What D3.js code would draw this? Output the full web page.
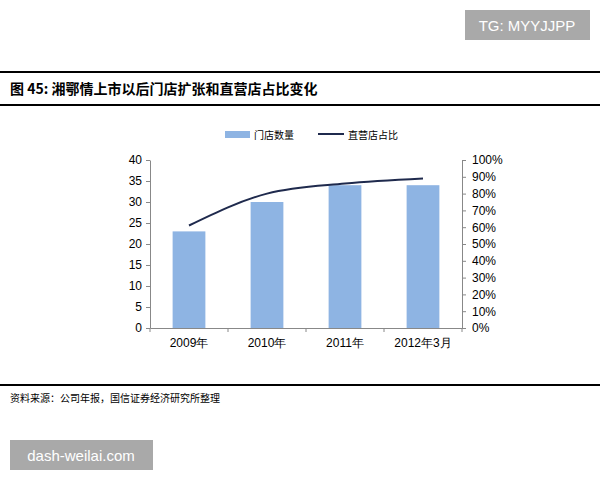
<!DOCTYPE html>
<html><head><meta charset="utf-8">
<script src="https://cdn.jsdelivr.net/npm/d3@7"></script>
<style>body{margin:0;background:#fff}text{font-family:"Liberation Sans",Arial,sans-serif}</style>
</head><body><div id="chart"></div>
<script>
const categories = ["2009年", "2010年", "2011年", "2012年3月"];
const storeCount = [23, 30, 34, 34];
const directShare = [0.61, 0.80, 0.86, 0.89];
const leftTicks = [0, 5, 10, 15, 20, 25, 30, 35, 40];
const rightTicks = [0, 0.1, 0.2, 0.3, 0.4, 0.5, 0.6, 0.7, 0.8, 0.9, 1];

const cjk = '"Noto Sans CJK SC", sans-serif';
const svg = d3.select("#chart").append("svg").attr("width", 600).attr("height", 480);

// watermark top right
svg.append("rect").attr("x", 465).attr("y", 10).attr("width", 125).attr("height", 30).attr("fill", "#a9a9a9");
svg.append("text").attr("x", 527).attr("y", 31).attr("text-anchor", "middle").attr("fill", "#fff")
  .style("font-size", "15px").text("TG: MYYJJPP");

// title band
svg.append("line").attr("x1", 0).attr("x2", 600).attr("y1", 72).attr("y2", 72).attr("stroke", "#000").attr("stroke-width", 2);
svg.append("line").attr("x1", 0).attr("x2", 600).attr("y1", 105).attr("y2", 105).attr("stroke", "#000").attr("stroke-width", 2);
svg.append("text").attr("x", 10).attr("y", 94).style("font-family", cjk).style("font-weight", "bold")
  .style("font-size", "14px").text("图 45:  湘鄂情上市以后门店扩张和直营店占比变化");

const x = d3.scaleBand().domain(categories).range([150, 462]).paddingInner(0.58).paddingOuter(0.29);
const yL = d3.scaleLinear().domain([0, 40]).range([328, 160]);
const yR = d3.scaleLinear().domain([0, 1]).range([328, 160]);

svg.append("g").selectAll("rect").data(storeCount).join("rect")
  .attr("x", (d, i) => x(categories[i])).attr("width", x.bandwidth())
  .attr("y", d => yL(d)).attr("height", d => yL(0) - yL(d)).attr("fill", "#8eb4e3");

const line = d3.line().x((d, i) => x(categories[i]) + x.bandwidth() / 2).y(d => yR(d)).curve(d3.curveMonotoneX);
svg.append("path").datum(directShare).attr("d", line).attr("fill", "none").attr("stroke", "#1f2a4d").attr("stroke-width", 2);

const gl = svg.append("g").attr("transform", "translate(150,0)")
  .call(d3.axisLeft(yL).tickValues(leftTicks).tickSize(4).tickSizeOuter(0));
const gr = svg.append("g").attr("transform", "translate(462,0)")
  .call(d3.axisRight(yR).tickValues(rightTicks).tickFormat(d3.format(".0%")).tickSize(4).tickSizeOuter(0));
const gx = svg.append("g").attr("transform", "translate(0,328)")
  .call(d3.axisBottom(x).tickSize(0).tickPadding(10));
gx.append("g").selectAll("line").data([150, 228, 306, 384, 462]).join("line")
  .attr("x1", d => d).attr("x2", d => d).attr("y1", 0).attr("y2", 4).attr("stroke", "#888");
[gl, gr, gx].forEach(g => {
  g.selectAll("path,line").attr("stroke", "#888");
  g.selectAll("text").style("font-size", "12px").attr("fill", "#000");
});
gl.selectAll("text").attr("x", -8);
gr.selectAll("text").attr("x", 10);

// legend
svg.append("rect").attr("x", 225).attr("y", 131).attr("width", 25).attr("height", 7).attr("fill", "#8eb4e3");
svg.append("text").attr("x", 254).attr("y", 139).style("font-family", cjk).style("font-size", "10px").text("门店数量");
svg.append("line").attr("x1", 318).attr("x2", 344).attr("y1", 134).attr("y2", 134).attr("stroke", "#1f2a4d").attr("stroke-width", 2);
svg.append("text").attr("x", 348).attr("y", 139).style("font-family", cjk).style("font-size", "10px").text("直营店占比");

// source
svg.append("line").attr("x1", 0).attr("x2", 600).attr("y1", 385).attr("y2", 385).attr("stroke", "#000").attr("stroke-width", 2);
svg.append("text").attr("x", 10).attr("y", 402).style("font-family", cjk).style("font-size", "10px")
  .text("资料来源：公司年报，国信证券经济研究所整理");

// watermark bottom left
svg.append("rect").attr("x", 10).attr("y", 440).attr("width", 143).attr("height", 30).attr("fill", "#a9a9a9");
svg.append("text").attr("x", 81).attr("y", 461).attr("text-anchor", "middle").attr("fill", "#fff")
  .style("font-size", "15px").text("dash-weilai.com");
</script></body></html>
